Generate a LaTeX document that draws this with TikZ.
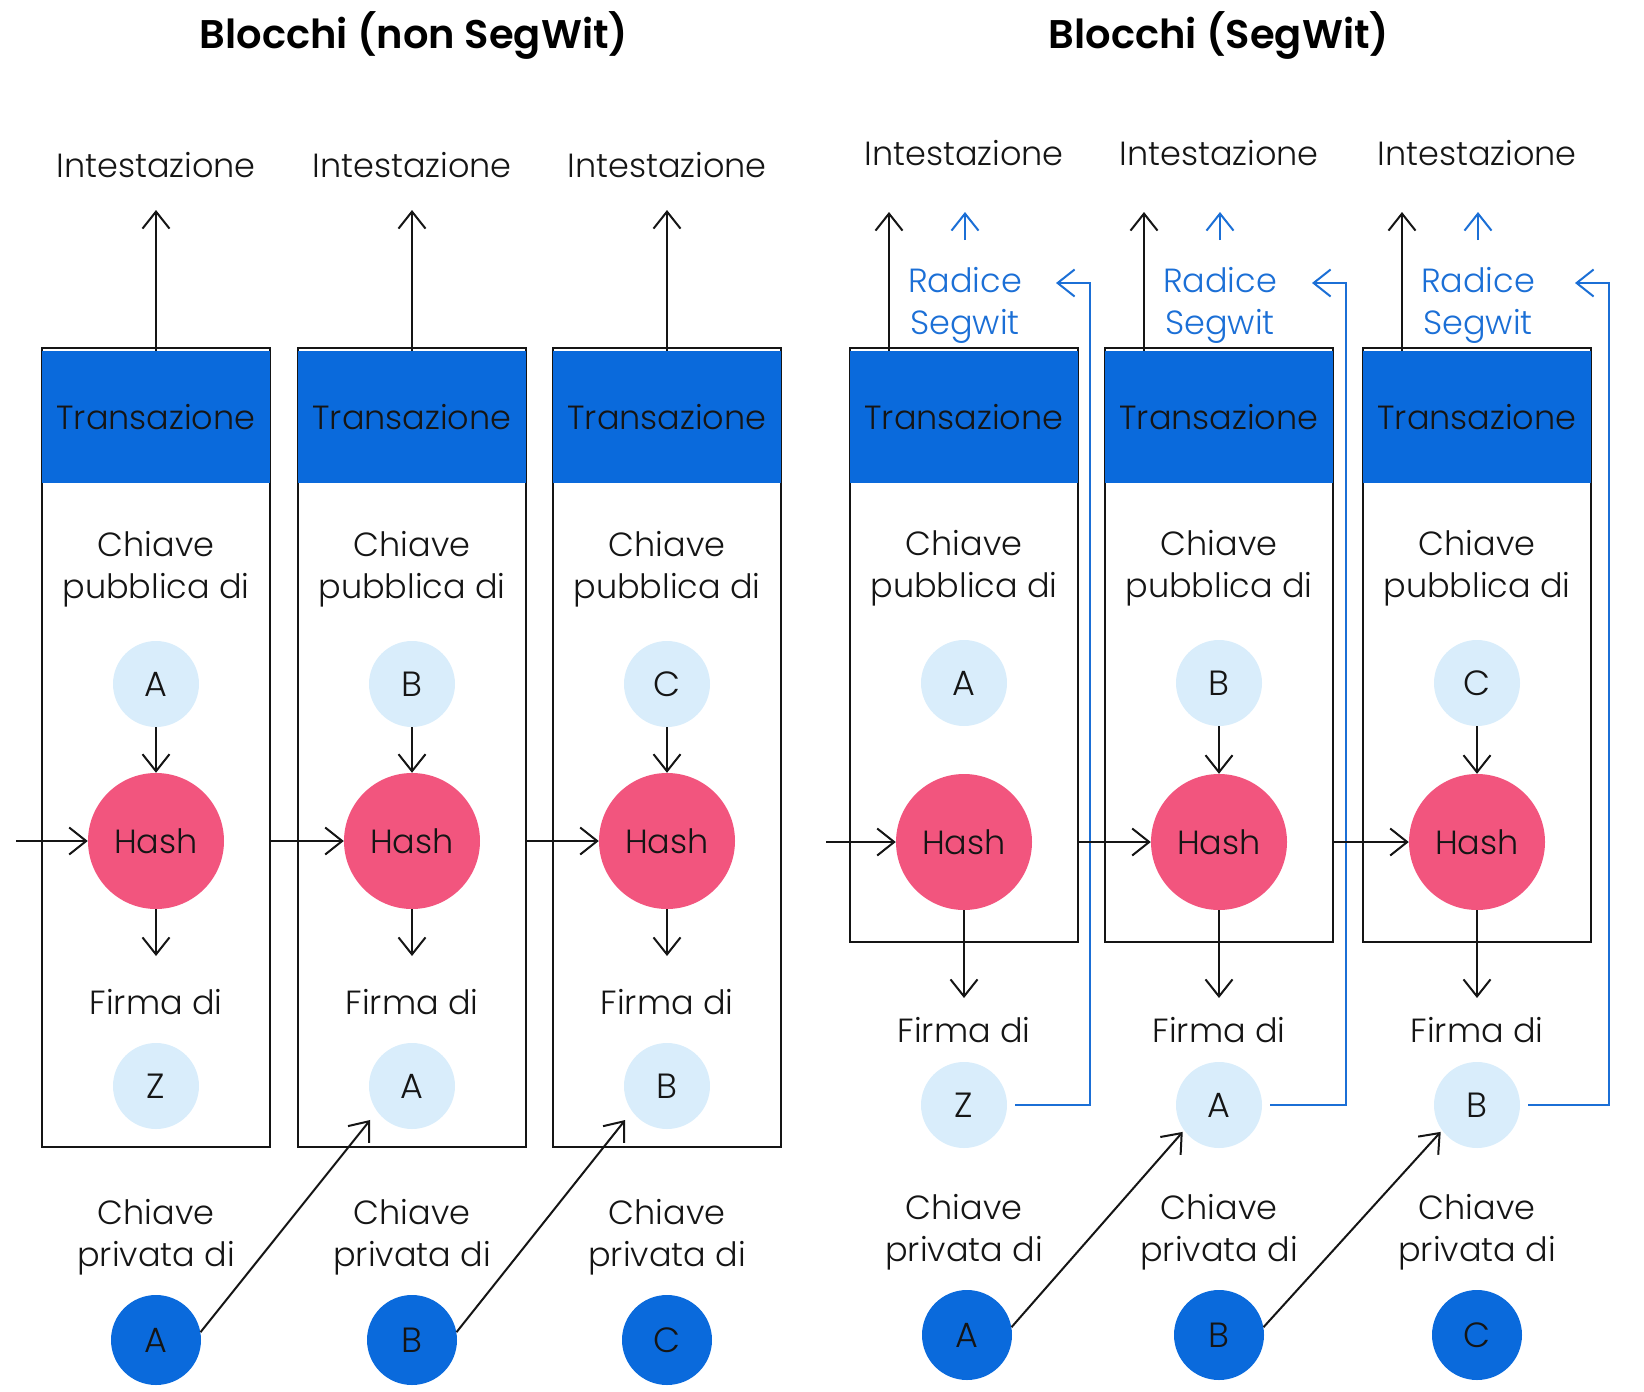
\documentclass[tikz,border=0pt]{standalone}
\usepackage{fontspec}
\setmainfont{Poppins}[UprightFont=* Light, BoldFont=* SemiBold]
\usetikzlibrary{arrows.meta}
\definecolor{boxblue}{HTML}{0A6ADC}
\definecolor{hashpink}{HTML}{F2557E}
\definecolor{lightblue}{HTML}{D9EDFB}
\definecolor{radblue}{HTML}{1B6FD6}
\definecolor{ink}{HTML}{151515}
\begin{document}
\begin{tikzpicture}[x=1pt,y=-1pt,
  lbl/.style={font=\fontsize{33.5}{42}\selectfont, text=ink, align=center, inner sep=0pt},
  rad/.style={lbl, text=radblue},
  title/.style={font=\fontsize{40}{46}\selectfont\bfseries, text=black, inner sep=0pt},
  frame/.style={draw=ink, line width=2pt, minimum width=228pt, inner sep=0pt},
  hdr/.style={fill=boxblue, minimum width=228pt, minimum height=132pt, inner sep=0pt, font=\fontsize{33.5}{40}\selectfont, text=ink},
  light/.style={circle, fill=lightblue, minimum size=86pt, inner sep=0pt, font=\fontsize{35}{40}\selectfont, text=ink},
  hashc/.style={circle, fill=hashpink, minimum size=136pt, inner sep=0pt, font=\fontsize{33.5}{40}\selectfont, text=ink},
  dark/.style={circle, fill=boxblue, minimum size=90pt, inner sep=0pt, font=\fontsize{35}{40}\selectfont, text=ink},
  arr/.style={draw=ink, line width=2pt, -{Straight Barb[length=17pt,width=27pt,line width=2pt]}},
  barr/.style={draw=radblue, line width=2pt, -{Straight Barb[length=17pt,width=27pt,line width=2pt]}},
]
\useasboundingbox (0,0) rectangle (1644,1392);

\node[title] (tL) at (414,35) {Blocchi (non SegWit)};
\node[title] (tR) at (1219,35) {Blocchi (SegWit)};

% ---------- left: non SegWit ----------
\foreach \i/\x/\pk/\sg/\pv in {1/156/A/Z/A, 2/412/B/A/B, 3/667/C/B/C}{
  \node[frame, minimum height=799pt] (L\i-box) at (\x,747.5) {};
  \node[hdr] (L\i-hdr) at (\x,417) {Transazione};
  \node[lbl] (L\i-int) at (\x,165) {Intestazione};
  \coordinate (L\i-top) at (\x,210);
  \draw[arr] (L\i-hdr.north) -- (L\i-top);
  \node[lbl] (L\i-pub) at (\x,569) {Chiave\\pubblica di};
  \node[light] (L\i-pk) at (\x,684) {\pk};
  \node[hashc] (L\i-hash) at (\x,841) {Hash};
  \draw[arr] (L\i-pk) -- (L\i-hash);
  \coordinate (L\i-fa) at (\x,956);
  \draw[arr] (L\i-hash) -- (L\i-fa);
  \node[lbl] (L\i-firma) at (\x,1002) {Firma di};
  \node[light] (L\i-sig) at (\x,1086) {\sg};
  \node[lbl] (L\i-priv) at (\x,1237) {Chiave\\privata di};
  \node[dark] (L\i-pv) at (\x,1340) {\pv};
}
\coordinate (Lin) at (16,841);
\draw[arr] (Lin) -- (L1-hash.west);
\draw[arr] (L1-box.east |- L2-hash) -- (L2-hash.west);
\draw[arr] (L2-box.east |- L3-hash) -- (L3-hash.west);
\draw[arr, shorten >=11pt] (L1-pv.10) -- (L2-sig.216);
\draw[arr, shorten >=11pt] (L2-pv.10) -- (L3-sig.216);

% ---------- right: SegWit ----------
\foreach \i/\x/\vx/\pk/\sg/\pv/\dx in {1/964/1090/A/Z/A/3, 2/1219/1346/B/A/B/0, 3/1477/1609/C/B/C/0}{
  \node[frame, minimum height=594pt] (R\i-box) at (\x,645) {};
  \node[hdr] (R\i-hdr) at (\x,417) {Transazione};
  \node[lbl] (R\i-int) at (\x,153) {Intestazione};
  \coordinate (R\i-top) at (\x-75,212);
  \draw[arr] (R\i-hdr.north west -| R\i-top) -- (R\i-top);
  \node[rad] (R\i-rad) at (\x+1,305) {Radice\\Segwit};
  \coordinate (R\i-up) at (\x+1,212);
  \draw[barr] (\x+1,240) -- (R\i-up);
  \node[lbl] (R\i-pub) at (\x,568) {Chiave\\pubblica di};
  \node[light] (R\i-pk) at (\x,683) {\pk};
  \node[hashc] (R\i-hash) at (\x,842) {Hash};
  \coordinate (R\i-fa) at (\x,998);
  \draw[arr] (R\i-hash) -- (R\i-fa);
  \node[lbl] (R\i-firma) at (\x,1030) {Firma di};
  \node[light] (R\i-sig) at (\x,1105) {\sg};
  \node[lbl] (R\i-priv) at (\x,1232) {Chiave\\privata di};
  \node[dark] (R\i-pv) at (\x+\dx,1335) {\pv};
  \coordinate (R\i-rt) at (\vx-34,283);
  \draw[barr] ([xshift=8pt]R\i-sig.east) -| (\vx,283) -- (R\i-rt);
}
\draw[arr] (R2-pk) -- (R2-hash);
\draw[arr] (R3-pk) -- (R3-hash);
\coordinate (Rin) at (826,842);
\draw[arr] (Rin) -- (R1-hash.west);
\draw[arr] (R1-box.east |- R2-hash) -- (R2-hash.west);
\draw[arr] (R2-box.east |- R3-hash) -- (R3-hash.west);
\draw[arr, shorten >=2pt] (R1-pv.10) -- (R2-sig.216);
\draw[arr, shorten >=2pt] (R2-pv.10) -- (R3-sig.216);
\end{tikzpicture}
\end{document}
